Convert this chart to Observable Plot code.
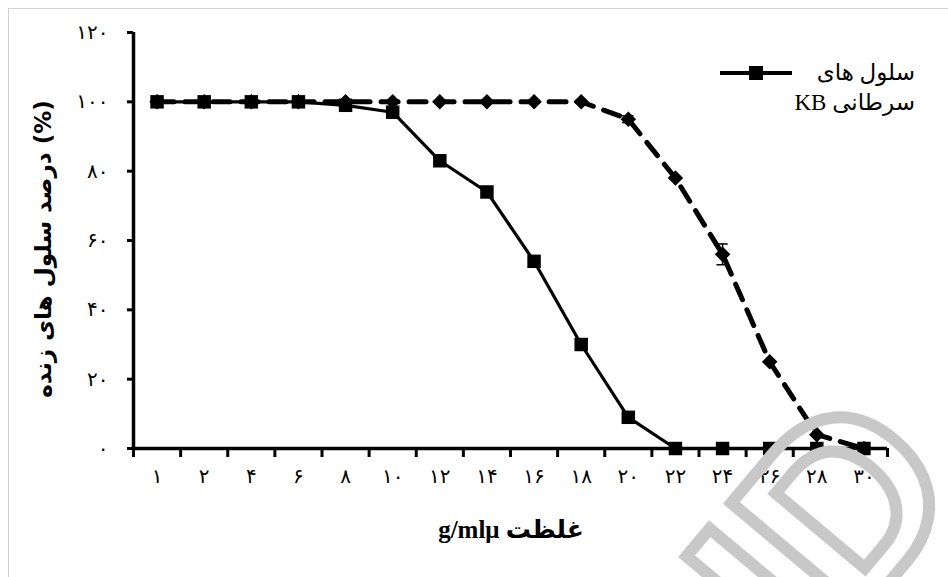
<!DOCTYPE html>
<html><head><meta charset="utf-8">
<script src="https://cdn.jsdelivr.net/npm/d3@7"></script>
<script src="https://cdn.jsdelivr.net/npm/@observablehq/plot@0.6"></script>
<style>
html,body{margin:0;padding:0;background:#fff;}
#wrap{position:relative;width:948px;height:577px;overflow:hidden;background:#fff;}
#frame{position:absolute;left:8px;top:8px;width:1000px;height:700px;border:1.5px solid #d0d0d0;}
#chart{position:absolute;left:0;top:0;}
#wm{position:absolute;left:0;top:0;pointer-events:none;}
.ylab{position:absolute;left:43px;top:249px;transform:translate(-50%,-50%) rotate(-90deg);white-space:nowrap;font-family:"DejaVu Sans",sans-serif;font-weight:bold;font-size:23px;direction:ltr;color:#000;}
.xlab{position:absolute;left:511px;top:529px;transform:translate(-50%,-50%);white-space:nowrap;font-family:"Liberation Serif","DejaVu Sans",serif;font-weight:bold;font-size:25px;direction:ltr;color:#000;}
.legend{position:absolute;left:715px;top:58px;width:200px;height:70px;}
.legend .txt{position:absolute;right:0;top:0px;direction:rtl;text-align:right;font-family:"Liberation Serif","DejaVu Sans",serif;font-size:23px;line-height:30px;color:#000;}
</style></head><body>
<div id="wrap"><div id="frame"></div><div id="chart"></div>
<div class="ylab">درصد سلول های زنده (%)</div>
<div class="xlab">g/mlμ غلظت</div>
<div class="legend"><svg id="legsym" width="90" height="30" style="position:absolute;left:0;top:0"></svg>
<div class="txt">سلول های<br>سرطانی KB</div></div>
<svg id="wm" width="948" height="577"></svg>
</div>
<script>
// concentration categories (x axis)
const concentrations = ["1","2","4","6","8","10","12","14","16","18","20","22","24","26","28","30"];
const xTickLabels = ["۱","۲","۴","۶","۸","۱۰","۱۲","۱۴","۱۶","۱۸","۲۰","۲۲","۲۴","۲۶","۲۸","۳۰"];
// KB cancer cells viability (%) – solid line, squares
const kbViability = [100,100,100,100,99,97,83,74,54,30,9,0,0,0,0,0];
// second series (dashed line, diamonds)
const otherViability = [100,100,100,100,100,100,100,100,100,100,95,78,56,25,4,0];
const otherError = [0,0,0,0,0,0,0,0,0,0,1,0,3,0,3,0];
// y axis
const yTicks = [0,20,40,60,80,100,120];
const yTickLabels = ["۰","۲۰","۴۰","۶۰","۸۰","۱۰۰","۱۲۰"];

const n = concentrations.length;
const idx = d3.range(n);
const kbData = idx.map(i => ({i, c: concentrations[i], v: kbViability[i]}));
const otherData = idx.map(i => ({i, c: concentrations[i], v: otherViability[i], e: otherError[i]}));
const errData = otherData.filter(d => d.e > 0);
const bounds = d3.range(n + 1).map(k => k - 0.5);

const plot = Plot.plot({
  width: 948, height: 577,
  marginLeft: 133, marginRight: 61, marginTop: 32, marginBottom: 129,
  x: {type: "linear", domain: [-0.5, n - 0.5], axis: null},
  y: {domain: [0, 120], axis: null},
  style: {fontFamily: "DejaVu Sans, sans-serif", fontSize: "20px", color: "#000", background: "transparent", overflow: "visible"},
  marks: [
    Plot.axisY(yTicks, {anchor: "left", tickSize: 6, tickPadding: 19, stroke: "#000", strokeWidth: 3, fontSize: 20,
      tickFormat: d => yTickLabels[yTicks.indexOf(d)], label: null}),
    Plot.axisX(bounds, {anchor: "bottom", tickSize: 9, tickPadding: 0, stroke: "#000", strokeWidth: 3, tickFormat: () => "", label: null}),
    Plot.axisX(idx, {anchor: "bottom", tickSize: 0, tickPadding: 20, fontSize: 20, tickFormat: i => xTickLabels[i], label: null}),
    Plot.ruleX([-0.5], {y1: 0, y2: 120, stroke: "#000", strokeWidth: 3.5}),
    Plot.ruleY([0], {stroke: "#000", strokeWidth: 3.5}),
    Plot.line(otherData, {x: "i", y: "v", stroke: "#000", strokeWidth: 5, strokeDasharray: "17,11"}),
    Plot.ruleX(errData, {x: "i", y1: d => d.v - d.e, y2: d => d.v + d.e, stroke: "#000", strokeWidth: 1.5}),
    Plot.ruleY(errData, {y: d => d.v + d.e, x1: d => d.i - 0.12, x2: d => d.i + 0.12, stroke: "#000", strokeWidth: 1.5}),
    Plot.ruleY(errData, {y: d => d.v - d.e, x1: d => d.i - 0.12, x2: d => d.i + 0.12, stroke: "#000", strokeWidth: 1.5}),
    Plot.dot(otherData, {x: "i", y: "v", symbol: "diamond2", r: 7, fill: "#000", stroke: "none"}),
    Plot.line(kbData, {x: "i", y: "v", stroke: "#000", strokeWidth: 3.2}),
    Plot.dot(kbData, {x: "i", y: "v", symbol: "square", r: 7.6, fill: "#000", stroke: "none"})
  ]
});
document.getElementById("chart").appendChild(plot);

// legend symbol
const leg = d3.select("#legsym");
leg.append("line").attr("x1", 5).attr("x2", 77).attr("y1", 15).attr("y2", 15).attr("stroke", "#000").attr("stroke-width", 4);
leg.append("rect").attr("x", 34).attr("y", 8).attr("width", 14).attr("height", 14).attr("fill", "#000");

// background watermark (decorative, as in the scanned source)
d3.select("#wm").append("text")
  .attr("transform", "translate(768,592) rotate(-50)")
  .attr("text-anchor", "middle").attr("dominant-baseline", "central")
  .attr("font-family", "Liberation Sans").attr("font-weight", "bold").attr("font-size", 250)
  .attr("fill", "none").attr("stroke", "#c8c8c8").attr("stroke-width", 12)
  .attr("aria-hidden", "true")
  .text("SID");
</script>
</body></html>
